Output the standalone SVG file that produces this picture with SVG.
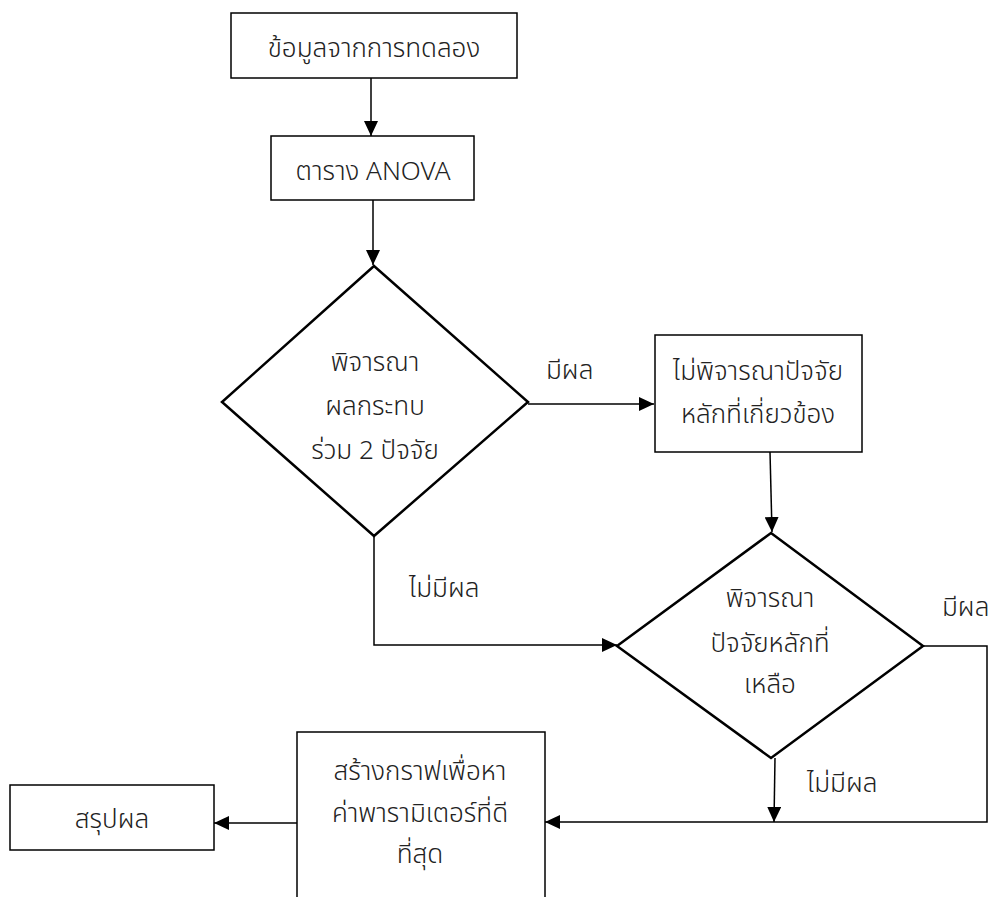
<svg xmlns="http://www.w3.org/2000/svg" width="990" height="897" viewBox="0 0 990 897">
<style>
.box{fill:#fff;stroke:#000;stroke-width:1.5}
.dia{fill:#fff;stroke:#000;stroke-width:2.5}
.t{font-family:"Noto Sans","Noto Sans Thai","DejaVu Sans",sans-serif;font-size:26px;font-weight:300;fill:#222;text-anchor:middle;dominant-baseline:central}
.lab{font-family:"Noto Sans","Noto Sans Thai","DejaVu Sans",sans-serif;font-size:26px;font-weight:300;fill:#222;text-anchor:start;dominant-baseline:central}
.c{fill:none;stroke:#000;stroke-width:1.5}
</style>
<defs>
<marker id="ah" markerWidth="15" markerHeight="14" refX="15" refY="7" orient="auto" markerUnits="userSpaceOnUse">
<path d="M0,0 L15,7 L0,14 Z" fill="#000"/>
</marker>
</defs>
<g id="connectors">
<path class="c" d="M371,78 L371,136" marker-end="url(#ah)"/>
<path class="c" d="M373,200 L373,265" marker-end="url(#ah)"/>
<path class="c" d="M528,404 L654,404" marker-end="url(#ah)"/>
<path class="c" d="M770,452 L772,532" marker-end="url(#ah)"/>
<path class="c" d="M374,536 L374,645 L617,645" marker-end="url(#ah)"/>
<path class="c" d="M923,646 L987,646 L987,822 L545,822" marker-end="url(#ah)"/>
<path class="c" d="M775,758 L774,822" marker-end="url(#ah)"/>
<path class="c" d="M297,823 L214,823" marker-end="url(#ah)"/>
<text class="lab" x="546" y="369">มีผล</text>
<text class="lab" x="409" y="587">ไม่มีผล</text>
<text class="lab" x="942" y="606">มีผล</text>
<text class="lab" x="807" y="782">ไม่มีผล</text>
</g>
<g id="n1">
<rect class="box" x="231" y="13" width="286" height="65"/>
<text class="t" x="374" y="47">ข้อมูลจากการทดลอง</text>
</g>
<g id="n2">
<rect class="box" x="271" y="136" width="203" height="64"/>
<text class="t" x="373" y="170">ตาราง ANOVA</text>
</g>
<g id="d1">
<polygon class="dia" points="374,266 528,402 374,536 222,402"/>
<text class="t" x="375" y="361">พิจารณา</text>
<text class="t" x="375" y="405">ผลกระทบ</text>
<text class="t" x="375" y="449">ร่วม 2 ปัจจัย</text>
</g>
<g id="n3">
<rect class="box" x="655" y="335" width="207" height="117"/>
<text class="t" x="758" y="370">ไม่พิจารณาปัจจัย</text>
<text class="t" x="758" y="413">หลักที่เกี่ยวข้อง</text>
</g>
<g id="d2">
<polygon class="dia" points="771,533 923,646 771,758 617,646"/>
<text class="t" x="770" y="597">พิจารณา</text>
<text class="t" x="770" y="642">ปัจจัยหลักที่</text>
<text class="t" x="770" y="683">เหลือ</text>
</g>
<g id="n4">
<rect class="box" x="297" y="732" width="248" height="180"/>
<text class="t" x="420" y="770">สร้างกราฟเพื่อหา</text>
<text class="t" x="420" y="812">ค่าพารามิเตอร์ที่ดี</text>
<text class="t" x="420" y="853">ที่สุด</text>
</g>
<g id="n5">
<rect class="box" x="10" y="785" width="204" height="65"/>
<text class="t" x="112" y="818">สรุปผล</text>
</g>
</svg>
